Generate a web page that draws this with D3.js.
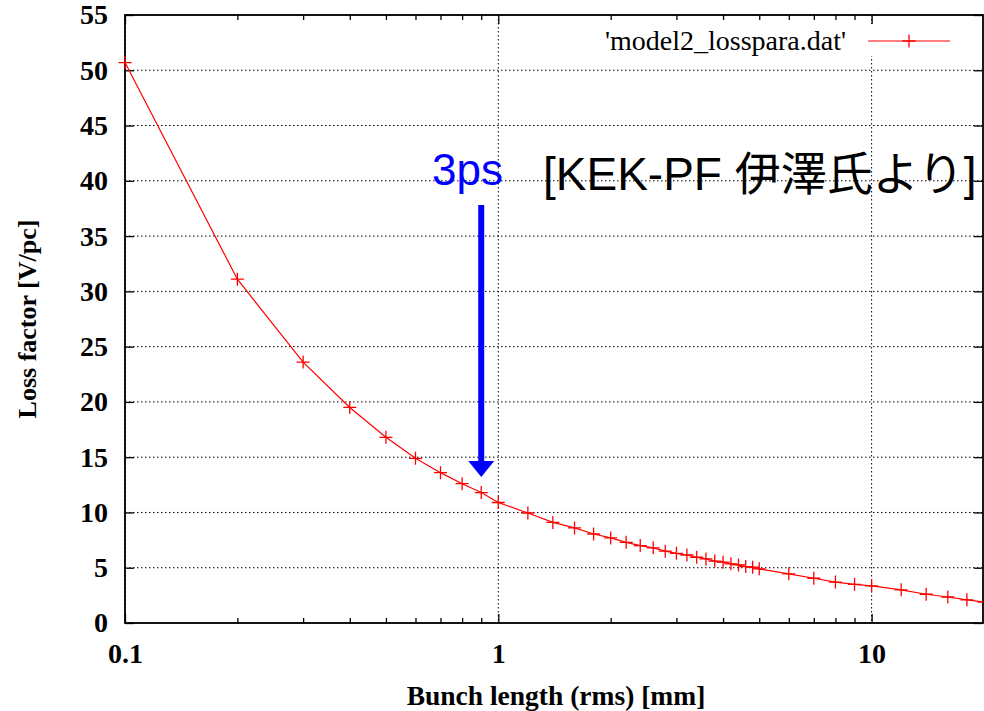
<!DOCTYPE html>
<meta charset="utf-8">
<script src="https://d3js.org/d3.v7.min.js"></script>
<style>
  body { margin: 0; background: #fff; }
  .tick line { stroke: #000; stroke-width: 1.3; }
</style>
<div id="chart"></div>
<script>

// bunch length (rms) in mm
var bunchLength = [0.1, 0.2, 0.3, 0.4, 0.5, 0.6, 0.7, 0.8, 0.9, 1.0,
                   1.2, 1.4, 1.6, 1.8, 2.0, 2.2, 2.4, 2.6, 2.8, 3.0,
                   3.2, 3.4, 3.6, 3.8, 4.0, 4.2, 4.4, 4.6, 4.8, 5.0,
                   6, 7, 8, 9, 10, 12, 14, 16, 18, 20];
// loss factor in V/pc
var lossFactor = [50.7, 31.1, 23.6, 19.5, 16.8, 14.9, 13.6, 12.6, 11.8, 10.9,
                  9.95, 9.1, 8.6, 8.05, 7.7, 7.3, 7.0, 6.8, 6.5, 6.3,
                  6.15, 5.95, 5.8, 5.6, 5.5, 5.35, 5.25, 5.1, 5.05, 4.9,
                  4.45, 4.05, 3.7, 3.5, 3.35, 3.0, 2.6, 2.35, 2.1, 1.9];

var xTicks = [0.1, 1, 10];
var xTickLabels = ["0.1", "1", "10"];
var xMinorTicks = [0.2, 0.3, 0.4, 0.5, 0.6, 0.7, 0.8, 0.9, 2, 3, 4, 5, 6, 7, 8, 9, 20];
var yTicks = [0, 5, 10, 15, 20, 25, 30, 35, 40, 45, 50, 55];

var seriesName = "'model2_losspara.dat'";
var markLabel = "3ps";
var markX = 0.9;
var creditText = "[KEK-PF 伊澤氏より]";

var W = 984, H = 711;
var mLeft = 125, mRight = 983, mTop = 15, mBottom = 623;
var serif = "'Liberation Serif', 'Times New Roman', serif";

var svg = d3.select("#chart")
  .append("svg")
    .attr("width", W)
    .attr("height", H);

var x = d3.scaleLog().domain([0.1, 20]).range([mLeft, 984]);
var y = d3.scaleLinear().domain([0, 55]).range([mBottom, mTop]);

var data = bunchLength.map(function(d, i) { return { x: d, y: lossFactor[i] }; });

// grid
var grid = svg.append("g");
grid.selectAll("line.hg")
  .data(yTicks)
  .enter().append("line")
    .attr("x1", mLeft).attr("x2", mRight)
    .attr("y1", function(d) { return y(d); })
    .attr("y2", function(d) { return y(d); })
    .attr("stroke", "#000").attr("stroke-width", 1)
    .attr("stroke-dasharray", "1.5,2.5");
grid.selectAll("line.vg")
  .data(xTicks)
  .enter().append("line")
    .attr("x1", function(d) { return x(d); })
    .attr("x2", function(d) { return x(d); })
    .attr("y1", mTop).attr("y2", mBottom)
    .attr("stroke", "#000").attr("stroke-width", 1)
    .attr("stroke-dasharray", "1.5,2.5");

// legend background hides the grid
svg.append("rect")
  .attr("x", 595).attr("y", 24)
  .attr("width", 365).attr("height", 32)
  .attr("fill", "#fff");

function styleLabels(g) {
  g.select(".domain").remove();
  g.selectAll(".tick text")
    .attr("font-family", serif)
    .attr("font-weight", "bold")
    .attr("font-size", 28)
    .attr("fill", "#000");
}

// axes
svg.append("g")
  .attr("transform", "translate(" + mLeft + ",0)")
  .call(d3.axisLeft(y).tickValues(yTicks).tickSize(-9).tickPadding(17))
  .call(styleLabels);

svg.append("g")
  .attr("transform", "translate(" + mRight + ",0)")
  .call(d3.axisRight(y).tickValues(yTicks).tickSize(-9).tickFormat(""))
  .call(styleLabels);

svg.append("g")
  .attr("transform", "translate(0," + mBottom + ")")
  .call(d3.axisBottom(x).tickValues(xTicks).tickSize(-9).tickPadding(20)
    .tickFormat(function(d, i) { return xTickLabels[i]; }))
  .call(styleLabels);

svg.append("g")
  .attr("transform", "translate(0," + mBottom + ")")
  .call(d3.axisBottom(x).tickValues(xMinorTicks).tickSize(-5).tickFormat(""))
  .call(styleLabels);

svg.append("g")
  .attr("transform", "translate(0," + mTop + ")")
  .call(d3.axisTop(x).tickValues(xTicks).tickSize(-9).tickFormat(""))
  .call(styleLabels);

svg.append("g")
  .attr("transform", "translate(0," + mTop + ")")
  .call(d3.axisTop(x).tickValues(xMinorTicks).tickSize(-5).tickFormat(""))
  .call(styleLabels);

// border
svg.append("rect")
  .attr("x", mLeft).attr("y", mTop)
  .attr("width", mRight - mLeft).attr("height", mBottom - mTop)
  .attr("fill", "none")
  .attr("stroke", "#000")
  .attr("stroke-width", 1.8);

// clip for data
svg.append("clipPath").attr("id", "clip")
  .append("rect")
    .attr("x", mLeft - 8).attr("y", mTop)
    .attr("width", mRight - mLeft + 8).attr("height", mBottom - mTop);

var plot = svg.append("g").attr("clip-path", "url(#clip)");

plot.append("path")
  .datum(data)
  .attr("fill", "none")
  .attr("stroke", "#ff0000")
  .attr("stroke-width", 1.2)
  .attr("d", d3.line()
    .x(function(d) { return x(d.x); })
    .y(function(d) { return y(d.y); }));

plot.selectAll("path.pt")
  .data(data)
  .enter().append("path")
    .attr("class", "pt")
    .attr("transform", function(d) { return "translate(" + x(d.x) + "," + y(d.y) + ")"; })
    .attr("d", "M-6.5,0H6.5M0,-6.5V6.5")
    .attr("stroke", "#ff0000")
    .attr("stroke-width", 1.3)
    .attr("fill", "none");

// legend
svg.append("text")
  .attr("x", 846).attr("y", 50)
  .attr("text-anchor", "end")
  .style("font-family", serif)
  .style("font-size", "28px")
  .text(seriesName);
svg.append("line")
  .attr("x1", 868).attr("x2", 950)
  .attr("y1", 41).attr("y2", 41)
  .attr("stroke", "#ff0000").attr("stroke-width", 1.2);
svg.append("path")
  .attr("transform", "translate(909,41)")
  .attr("d", "M-6.5,0H6.5M0,-6.5V6.5")
  .attr("stroke", "#ff0000").attr("stroke-width", 1.3);

// axis labels
svg.append("text")
  .attr("x", 556).attr("y", 705)
  .attr("text-anchor", "middle")
  .style("font-family", serif)
  .style("font-weight", "bold")
  .style("font-size", "27.5px")
  .text("Bunch length (rms) [mm]");

svg.append("text")
  .attr("transform", "translate(36,319) rotate(-90)")
  .attr("text-anchor", "middle")
  .style("font-family", serif)
  .style("font-weight", "bold")
  .style("font-size", "26px")
  .text("Loss factor [V/pc]");

// 3ps arrow
var ax = x(markX);
svg.append("line")
  .attr("x1", ax).attr("x2", ax)
  .attr("y1", 205).attr("y2", 462)
  .attr("stroke", "#0000ff").attr("stroke-width", 6);
svg.append("path")
  .attr("d", "M" + (ax - 13) + ",461L" + (ax + 13) + ",461L" + ax + ",477Z")
  .attr("fill", "#0000ff");

svg.append("text")
  .attr("x", 432).attr("y", 185)
  .style("font-family", "'Liberation Sans', Arial, sans-serif")
  .style("font-size", "44px")
  .attr("fill", "#0000ff")
  .text(markLabel);

svg.append("text")
  .attr("x", 543).attr("y", 190)
  .style("font-family", "'Liberation Sans', Arial, 'Noto Sans CJK JP', sans-serif")
  .style("font-size", "46px")
  .attr("fill", "#000")
  .text(creditText);

</script>
